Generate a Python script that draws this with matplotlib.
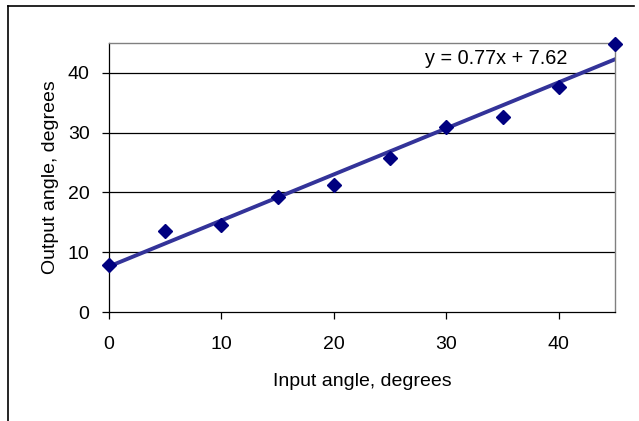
import numpy as np
import matplotlib.pyplot as plt
from matplotlib.lines import Line2D

# data
input_angle = [0, 5, 10, 15, 20, 25, 30, 35, 40, 45]
output_angle = [7.9, 13.6, 14.6, 19.2, 21.3, 25.8, 31.0, 32.6, 37.7, 44.9]
slope = 0.77
intercept = 7.62
x_ticks = [0, 10, 20, 30, 40]
y_ticks = [0, 10, 20, 30, 40]

plt.rcParams['font.family'] = ['Liberation Sans', 'DejaVu Sans']
FS = 14

fig = plt.figure(figsize=(6.39, 4.21), dpi=100)
ax = fig.add_axes([0.1706, 0.2589, 0.7918, 0.639])

# gridlines
for y in y_ticks[1:]:
    ax.axhline(y, color='black', lw=0.9, zorder=1)

# trendline
xs = np.array([0, 45])
ax.plot(xs, slope * xs + intercept, color='#333399', lw=2.8, zorder=2)

# data points
ax.plot(input_angle, output_angle, linestyle='none', marker='D',
        markersize=7.5, color='#000080', zorder=3, clip_on=False)

ax.text(40.8, 42.4, f'y = {slope}x + {intercept}',
        ha='right', va='center', fontsize=FS + 0.3)

ax.set_xlim(0, 45)
ax.set_ylim(0, 45)
ax.set_xticks(x_ticks)
ax.set_yticks(y_ticks)
ax.tick_params(direction='out', length=5, width=0.9, labelsize=FS)
ax.tick_params(axis='x', pad=12)
ax.tick_params(axis='y', pad=9)
for s in ['left', 'bottom']:
    ax.spines[s].set_color('black')
    ax.spines[s].set_linewidth(0.9)
for s in ['top', 'right']:
    ax.spines[s].set_color('#808080')
    ax.spines[s].set_linewidth(1.0)

ax.set_xlabel('Input angle, degrees', fontsize=FS, labelpad=15)
ax.set_ylabel('Output angle, degrees', fontsize=FS, labelpad=6.5)

# outer chart frame (left and top edge visible)
fig.add_artist(Line2D([8 / 639, 8 / 639], [0, 1 - 6 / 421], color='black', lw=1.2))
fig.add_artist(Line2D([8 / 639, 634 / 639], [1 - 6 / 421, 1 - 6 / 421], color='black', lw=1.2))

fig.savefig('out.png', dpi=100)
